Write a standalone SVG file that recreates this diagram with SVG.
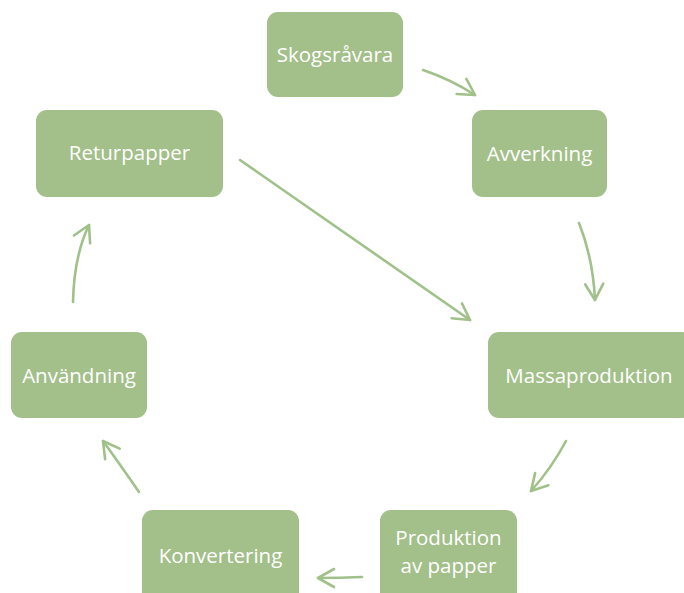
<svg xmlns="http://www.w3.org/2000/svg" width="684" height="593" viewBox="0 0 684 593">
<style>
.box{fill:#A3BF8A;}
.lbl{font-family:"Open Sans","Liberation Sans",sans-serif;font-size:20.5px;fill:#FFFFFF;text-anchor:middle;}
.arr{fill:none;stroke:#A0C18A;stroke-width:2.6;stroke-linecap:round;marker-end:url(#ah);}
</style>
<defs>
<marker id="ah" markerUnits="userSpaceOnUse" viewBox="-2 -2 22 22" markerWidth="22" markerHeight="22" refX="16" refY="9" orient="auto" overflow="visible">
<path d="M0,0 L16,9 L0,18" fill="none" stroke="#A0C18A" stroke-width="2.6" stroke-linecap="round" stroke-linejoin="round"/>
</marker>
</defs>
<rect width="684" height="593" fill="#FFFFFF"/>
<g id="connectors">
<path class="arr" d="M423,70 Q450,79 475,95"/>
<path class="arr" d="M579,223 Q593,258 595,300"/>
<path class="arr" d="M240,160 L470,320"/>
<path class="arr" d="M566,441 Q551,469 531,491"/>
<path class="arr" d="M362,577 Q340,578 318,578"/>
<path class="arr" d="M139,492 Q119,463 103,441"/>
<path class="arr" d="M73,302 Q74,256 89,225"/>
</g>
<g id="skogsravara"><rect class="box" x="267" y="12" width="136" height="85" rx="11"/><text class="lbl" x="335" y="62">Skogsråvara</text></g>
<g id="avverkning"><rect class="box" x="472" y="110" width="135" height="87" rx="11"/><text class="lbl" x="539.5" y="161">Avverkning</text></g>
<g id="massaproduktion"><rect class="box" x="488" y="332" width="205" height="86" rx="11"/><text class="lbl" x="589" y="383">Massaproduktion</text></g>
<g id="produktion"><rect class="box" x="380" y="510" width="137" height="95" rx="11"/><text class="lbl" x="448.5" y="545">Produktion</text><text class="lbl" x="448.5" y="573">av papper</text></g>
<g id="konvertering"><rect class="box" x="142" y="510" width="157" height="95" rx="11"/><text class="lbl" x="220.5" y="563">Konvertering</text></g>
<g id="anvandning"><rect class="box" x="11" y="332" width="136" height="86" rx="11"/><text class="lbl" x="79" y="383">Användning</text></g>
<g id="returpapper"><rect class="box" x="36" y="110" width="187" height="87" rx="11"/><text class="lbl" x="129.5" y="160">Returpapper</text></g>
</svg>
